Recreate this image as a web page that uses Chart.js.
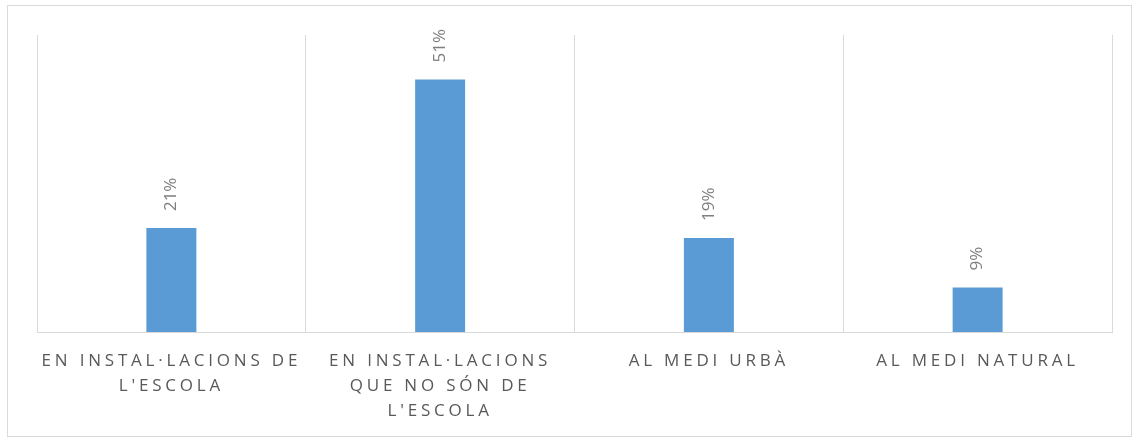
<!DOCTYPE html>
<html>
<head>
<meta charset="utf-8">
<script src="https://cdn.jsdelivr.net/npm/chart.js@4/dist/chart.umd.min.js"></script>
<style>
  body { margin: 0; background: #fff; overflow: hidden; }
  #frame { position: absolute; left: 7px; top: 5px; width: 1125px; height: 432px; border: 1px solid #d9d9d9; box-sizing: border-box; }
  #wrap { position: absolute; left: 8px; top: 6px; width: 1123px; height: 435px; }
</style>
</head>
<body>
<div id="frame"></div>
<div id="wrap"><canvas id="chart"></canvas></div>
<script>
// categories (already split into lines the way the original wraps them)
const categories = [
  ["EN INSTAL·LACIONS DE", "L'ESCOLA"],
  ["EN INSTAL·LACIONS", "QUE NO SÓN DE", "L'ESCOLA"],
  ["AL MEDI URBÀ"],
  ["AL MEDI NATURAL"]
];
const percentages = [21, 51, 19, 9];

// draws the rotated % labels above each bar
const valueLabels = {
  id: 'valueLabels',
  afterDatasetsDraw(chart) {
    const ctx = chart.ctx;
    const meta = chart.getDatasetMeta(0);
    ctx.save();
    ctx.letterSpacing = '0px';
    ctx.font = '17px "Open Sans"';
    ctx.fillStyle = '#7f7f7f';
    ctx.textAlign = 'left';
    ctx.textBaseline = 'middle';
    meta.data.forEach((bar, i) => {
      ctx.save();
      ctx.translate(bar.x, bar.y - 17);
      ctx.rotate(-Math.PI / 2);
      ctx.fillText(percentages[i] + '%', 0, 0);
      ctx.restore();
    });
    ctx.restore();
  }
};

// spaced-out letters on the category labels
const spacedTicks = {
  id: 'spacedTicks',
  beforeDraw(chart) { chart.ctx.letterSpacing = '3.8px'; },
  beforeDatasetsDraw(chart) { chart.ctx.letterSpacing = '0px'; }
};

new Chart(document.getElementById('chart'), {
  type: 'bar',
  data: {
    labels: categories,
    datasets: [{
      data: percentages,
      backgroundColor: '#5b9bd5',
      barPercentage: 0.186,
      categoryPercentage: 1
    }]
  },
  options: {
    responsive: true,
    maintainAspectRatio: false,
    animation: false,
    layout: { padding: { left: 29, right: 19, top: 29, bottom: 0 } },
    plugins: { legend: { display: false }, tooltip: { enabled: false } },
    scales: {
      x: {
        grid: { color: '#d9d9d9', lineWidth: 1, drawTicks: false },
        border: { color: '#d9d9d9' },
        ticks: {
          color: '#595959',
          font: { family: 'Open Sans', size: 17, lineHeight: 1.47 },
          padding: 17,
          maxRotation: 0,
          autoSkip: false
        }
      },
      y: {
        display: false,
        min: 0,
        max: 60
      }
    }
  },
  plugins: [valueLabels, spacedTicks]
});
</script>
</body>
</html>
